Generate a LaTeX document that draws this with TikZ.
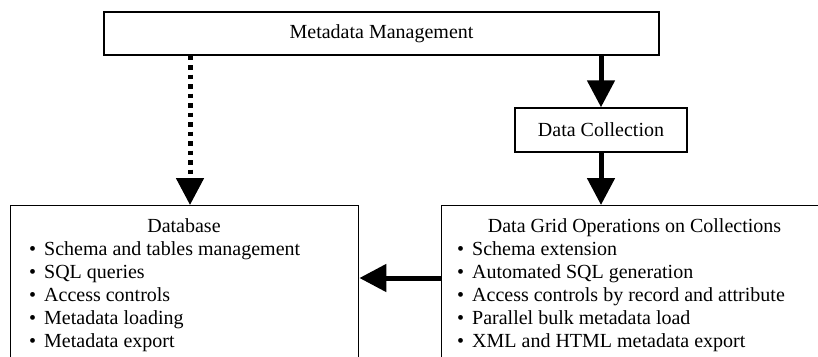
\documentclass[tikz,border=0pt]{standalone}
\usepackage{fontspec}
\setmainfont{Liberation Serif}
\usetikzlibrary{arrows.meta}
\newcommand{\itemdot}{\makebox[15pt][l]{•}}
\begin{document}
\begin{tikzpicture}[x=1pt,y=-1pt,
  box/.style={draw, line width=1.4pt, rectangle, inner sep=0pt,
    font=\fontsize{20}{23.2}\selectfont},
  txt/.style={inner sep=0pt, font=\fontsize{20}{23.2}\selectfont},
  flow/.style={line width=5pt, -{Triangle[width=27pt,length=27pt]}},
  dotflow/.style={flow, dash pattern=on 4.5pt off 5pt}]
\useasboundingbox (0,0) rectangle (818,356);
\clip (0,0) rectangle (818,356);

% boxes
\node[box, minimum width=555pt, minimum height=43pt] (mm) at (381.5,33.5) {Metadata Management};
\node[box, minimum width=172pt, minimum height=44pt] (dc) at (601,130) {Data Collection};
\node[box, minimum width=348pt, minimum height=200pt, anchor=north west] (db) at (10,205) {};
\node[box, minimum width=390pt, minimum height=200pt, anchor=north west] (dg) at (441,205) {};

% box contents
\node[txt, anchor=base] (dbtitle) at (184,232) {Database};
\node[txt, anchor=base west] (dblist) at (29,255) {%
  \begin{tabular}[t]{@{}l@{}}
  \itemdot Schema and tables management\\
  \itemdot SQL queries\\
  \itemdot Access controls\\
  \itemdot Metadata loading\\
  \itemdot Metadata export
  \end{tabular}};
\node[txt, anchor=base] (dgtitle) at (634.5,232) {Data Grid Operations on Collections};
\node[txt, anchor=base west] (dglist) at (457,255) {%
  \begin{tabular}[t]{@{}l@{}}
  \itemdot Schema extension\\
  \itemdot Automated SQL generation\\
  \itemdot Access controls by record and attribute\\
  \itemdot Parallel bulk metadata load\\
  \itemdot XML and HTML metadata export
  \end{tabular}};

% connectors
\draw[dotflow] (190,0 |- mm.south) -- (190,0 |- db.north);
\draw[flow] (dc.north |- mm.south) -- (dc.north);
\draw[flow] (dc.south) -- (dc.south |- dg.north);
\draw[flow] (dg.west |- 0,278) -- (db.east |- 0,278);
\end{tikzpicture}
\end{document}
